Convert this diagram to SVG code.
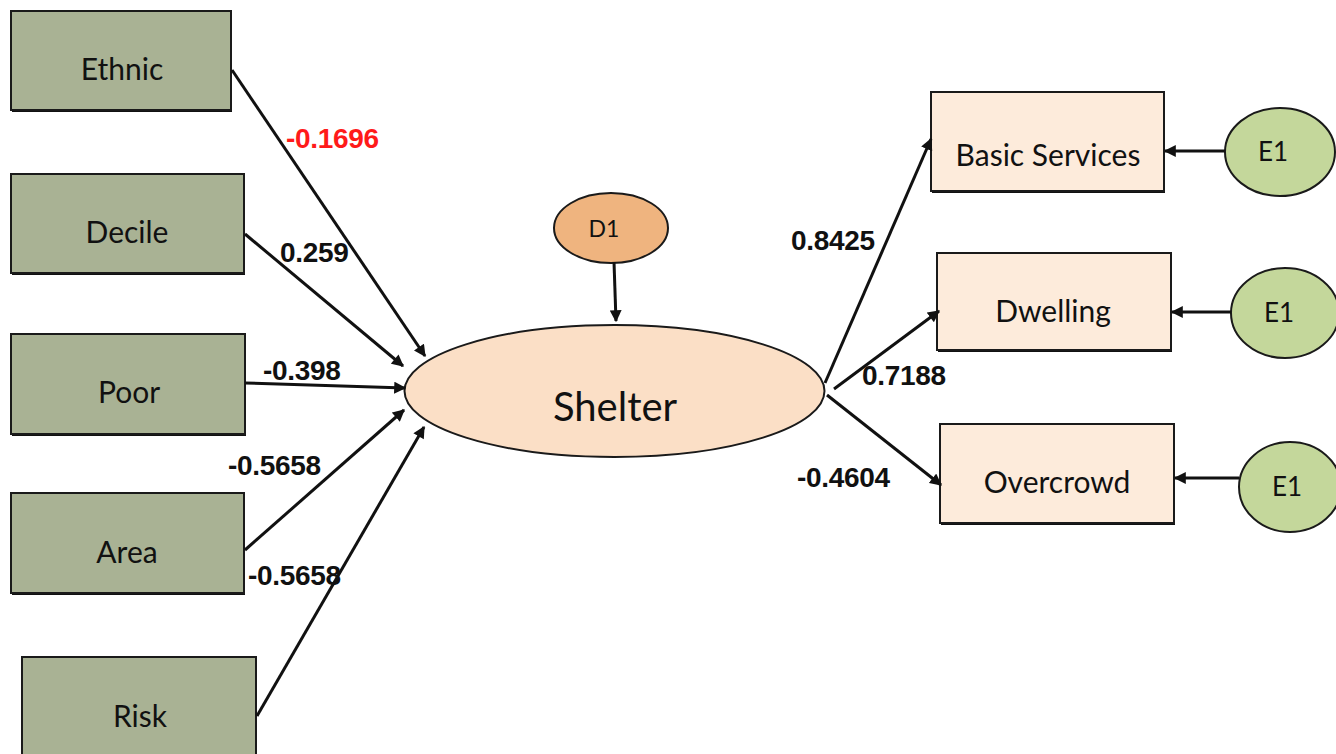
<svg xmlns="http://www.w3.org/2000/svg" width="1336" height="754" viewBox="0 0 1336 754">
  <style>
    .obs { fill: #A9B294; stroke: #1a1a1a; stroke-width: 2; }
    .ind { fill: #FDEBDB; stroke: #1a1a1a; stroke-width: 2; }
    .shadow { fill: #111; }
    .lat { fill: #FBDFC6; stroke: #1a1a1a; stroke-width: 2; }
    .dist { fill: #EFB47F; stroke: #1a1a1a; stroke-width: 2; }
    .err { fill: #C4D79B; stroke: #1a1a1a; stroke-width: 2; }
    .name { font-family: Lato, "Liberation Sans", sans-serif; fill: #111; text-anchor: middle; }
    .coef { font-family: "Liberation Sans", Arial, sans-serif; font-weight: bold; font-size: 28px; fill: #111; letter-spacing: -0.3px; }
    .neg { fill: #FF1A1A; }
    .edge { stroke: #111; stroke-width: 3; fill: none; marker-end: url(#head); }
  </style>
  <defs>
    <marker id="head" viewBox="0 0 10 10" refX="9" refY="5" markerWidth="4.2" markerHeight="4" orient="auto" markerUnits="strokeWidth">
      <path d="M0,0 L10,5 L0,10 Z" fill="#111"/>
    </marker>
  </defs>

  <!-- observed predictors -->
  <g id="ethnic">
    <rect class="shadow" x="12" y="13" width="220" height="99"/>
    <rect class="obs" x="11" y="11" width="220" height="99"/>
    <text class="name" x="122" y="80" font-size="30">Ethnic</text>
  </g>
  <g id="decile">
    <rect class="shadow" x="12" y="176" width="233" height="99"/>
    <rect class="obs" x="11" y="174" width="233" height="99"/>
    <text class="name" x="127" y="243" font-size="30">Decile</text>
  </g>
  <g id="poor">
    <rect class="shadow" x="12" y="336" width="234" height="100"/>
    <rect class="obs" x="11" y="334" width="234" height="100"/>
    <text class="name" x="129" y="403" font-size="30">Poor</text>
  </g>
  <g id="area">
    <rect class="shadow" x="12" y="495" width="233" height="100"/>
    <rect class="obs" x="11" y="493" width="233" height="100"/>
    <text class="name" x="127" y="563" font-size="30">Area</text>
  </g>
  <g id="risk">
    <rect class="shadow" x="23" y="659" width="234" height="110"/>
    <rect class="obs" x="22" y="657" width="234" height="110"/>
    <text class="name" x="140" y="727" font-size="30">Risk</text>
  </g>

  <!-- latent construct and its disturbance -->
  <g id="shelter">
    <ellipse class="lat" cx="614.5" cy="391" rx="210" ry="66"/>
    <text class="name" x="615" y="421" font-size="40">Shelter</text>
  </g>
  <g id="d1">
    <ellipse class="dist" cx="611" cy="228" rx="57" ry="35"/>
    <text class="name" x="604" y="237" font-size="23">D1</text>
  </g>

  <!-- indicators -->
  <g id="basic-services">
    <rect class="shadow" x="932" y="94" width="233" height="99"/>
    <rect class="ind" x="931" y="92" width="233" height="99"/>
    <text class="name" x="1048" y="166" font-size="30">Basic Services</text>
  </g>
  <g id="dwelling">
    <rect class="shadow" x="938" y="255" width="234" height="97"/>
    <rect class="ind" x="937" y="253" width="234" height="97"/>
    <text class="name" x="1053" y="322" font-size="30">Dwelling</text>
  </g>
  <g id="overcrowd">
    <rect class="shadow" x="941" y="426" width="234" height="99"/>
    <rect class="ind" x="940" y="424" width="234" height="99"/>
    <text class="name" x="1057" y="493" font-size="30">Overcrowd</text>
  </g>

  <!-- error terms -->
  <g id="e1-basic">
    <ellipse class="err" cx="1280" cy="152" rx="55" ry="44"/>
    <text class="name" x="1273" y="161" font-size="26">E1</text>
  </g>
  <g id="e1-dwelling">
    <ellipse class="err" cx="1285" cy="313" rx="54" ry="45"/>
    <text class="name" x="1279" y="322" font-size="26">E1</text>
  </g>
  <g id="e1-overcrowd">
    <ellipse class="err" cx="1290" cy="487" rx="51" ry="45"/>
    <text class="name" x="1287" y="496" font-size="26">E1</text>
  </g>

  <!-- paths -->
  <g id="connectors">
    <line class="edge" x1="232" y1="70" x2="425" y2="356"/>
    <line class="edge" x1="245" y1="234" x2="403" y2="366"/>
    <line class="edge" x1="245" y1="383" x2="405" y2="388"/>
    <line class="edge" x1="245" y1="550" x2="404" y2="410"/>
    <line class="edge" x1="257" y1="716" x2="424" y2="427"/>
    <line class="edge" x1="614" y1="262" x2="616" y2="321"/>
    <line class="edge" x1="825" y1="383" x2="931" y2="139"/>
    <line class="edge" x1="834" y1="389" x2="939" y2="311"/>
    <line class="edge" x1="827" y1="395" x2="941" y2="485"/>
    <line class="edge" x1="1225" y1="151" x2="1165" y2="151"/>
    <line class="edge" x1="1231" y1="312" x2="1172" y2="312"/>
    <line class="edge" x1="1239" y1="478" x2="1175" y2="478"/>
  </g>

  <!-- path coefficients -->
  <g id="coefficients">
    <text class="coef neg" x="286" y="148">-0.1696</text>
    <text class="coef" x="280" y="262">0.259</text>
    <text class="coef" x="263" y="380">-0.398</text>
    <text class="coef" x="228" y="475">-0.5658</text>
    <text class="coef" x="248" y="585">-0.5658</text>
    <text class="coef" x="791" y="250">0.8425</text>
    <text class="coef" x="862" y="385">0.7188</text>
    <text class="coef" x="797" y="487">-0.4604</text>
  </g>
</svg>
